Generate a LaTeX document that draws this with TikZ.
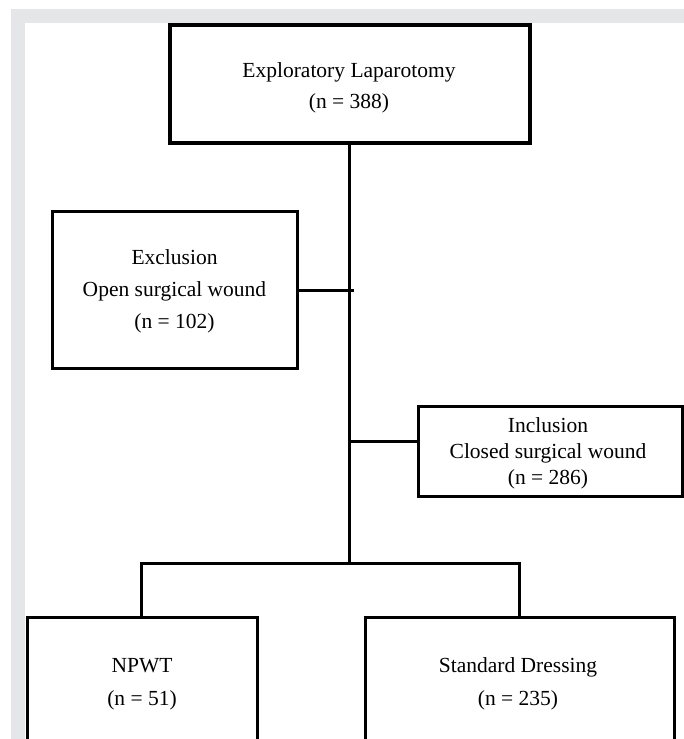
\documentclass[tikz,border=0pt]{standalone}
\usepackage{fontspec}
\setmainfont{Liberation Serif}
\begin{document}
\begin{tikzpicture}[x=1pt,y=-1pt,
  box/.style={draw=black,line width=3pt,fill=white,inner sep=0pt,anchor=center},
  txt/.style={inner sep=0pt,align=center,anchor=center},
  link/.style={draw=black,line width=3pt}]
\useasboundingbox (0,0) rectangle (684,739);
\clip (0,0) rectangle (684,739);
\fill[white] (0,0) rectangle (684,739);
\fill[fill={rgb,255:red,229;green,230;blue,232}] (11,9) rectangle (684,22.5);
\fill[fill={rgb,255:red,229;green,230;blue,232}] (11,9) rectangle (25,739);
% boxes
\node[box,line width=3.7pt,minimum width=360pt,minimum height=118.5pt] (top) at (350,84) {};
\node[txt,font=\fontsize{21.5}{31}\selectfont] (topt) at (349,88)
  {Exploratory Laparotomy\\(n = 388)};
\node[box,minimum width=245pt,minimum height=157pt] (excl) at (174.5,289.5) {};
\node[txt,font=\fontsize{21.5}{32}\selectfont] (exclt) at (174.5,291)
  {Exclusion\\Open surgical wound\\(n = 102)};
\node[box,minimum width=264pt,minimum height=90pt] (incl) at (550,451) {};
\node[txt,font=\fontsize{21.5}{26}\selectfont] (inclt) at (548,453)
  {Inclusion\\Closed surgical wound\\(n = 286)};
\node[box,minimum width=230pt,minimum height=128pt] (npwt) at (142,681) {};
\node[txt,font=\fontsize{21.5}{33}\selectfont] (npwtt) at (142,684)
  {NPWT\\(n = 51)};
\node[box,minimum width=309pt,minimum height=128pt] (std) at (519.5,681) {};
\node[txt,font=\fontsize{21.5}{33}\selectfont] (stdt) at (518,684)
  {Standard Dressing\\(n = 235)};
% junctions
\coordinate (jbot) at (349,563.5);
\coordinate (jexcl) at (353.5,290);
\coordinate (jincl) at (349,441);
\coordinate (jl) at (141.5,563.5);
\coordinate (jr) at (519,563.5);
% connectors
\draw[link] (top.south -| jbot) -- (jbot);
\draw[link] (excl.east |- jexcl) -- (jexcl);
\draw[link] (jincl) -- (incl.west |- jincl);
\draw[link,line cap=rect] (jl) -- (jr);
\draw[link] (jl) -- (jl |- npwt.north);
\draw[link] (jr) -- (jr |- std.north);
\end{tikzpicture}
\end{document}
